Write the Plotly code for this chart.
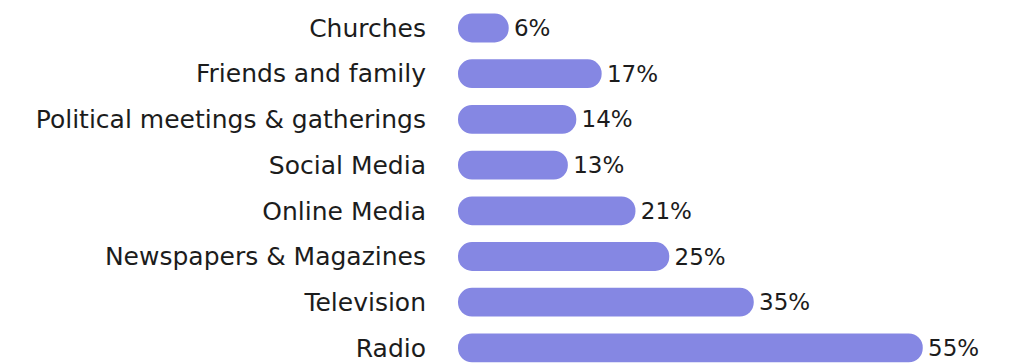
import plotly.graph_objects as go

# Sources of information, share of respondents (%)
categories = [
    "Churches",
    "Friends and family",
    "Political meetings & gatherings",
    "Social Media",
    "Online Media",
    "Newspapers & Magazines",
    "Television",
    "Radio",
]
values = [6, 17, 14, 13, 21, 25, 35, 55]

BAR_COLOR = "#8587e3"
TEXT_COLOR = "#1c1c1c"
FONT = "DejaVu Sans"

PX_PER_UNIT = 8.45       # horizontal scale of the value axis
ROW_PX = 45.7            # vertical distance between rows
BAR_WIDTH = 0.63         # bar thickness as a fraction of a row

fig = go.Figure()

# Pill-shaped bars: an explicit base makes both ends rounded
fig.add_trace(
    go.Bar(
        x=values,
        base=[0] * len(values),
        y=categories,
        orientation="h",
        width=BAR_WIDTH,
        marker=dict(color=BAR_COLOR, cornerradius="50%", line=dict(width=0)),
        text=[f"\u200a{v}%" for v in values],
        textposition="outside",
        cliponaxis=False,
        textfont=dict(family=FONT, size=23, color=TEXT_COLOR),
        hoverinfo="skip",
    )
)

plot_left = 458
plot_width = 1009 - plot_left
fig.update_layout(
    width=1009,
    height=363,
    margin=dict(l=plot_left, r=0, t=0, b=0),
    paper_bgcolor="white",
    plot_bgcolor="white",
    showlegend=False,
    font=dict(family=FONT, size=23, color=TEXT_COLOR),
)
fig.update_xaxes(
    range=[0, plot_width / PX_PER_UNIT],
    visible=False,
    showgrid=False,
    zeroline=False,
)
top_row_center = 28
y_top = -top_row_center / ROW_PX
fig.update_yaxes(
    range=[y_top + 363 / ROW_PX, y_top],
    showgrid=False,
    zeroline=False,
    showline=False,
    ticks="",
    ticklabelstandoff=31,
    tickfont=dict(family=FONT, size=25, color=TEXT_COLOR),
)

fig.write_html("out.html")
